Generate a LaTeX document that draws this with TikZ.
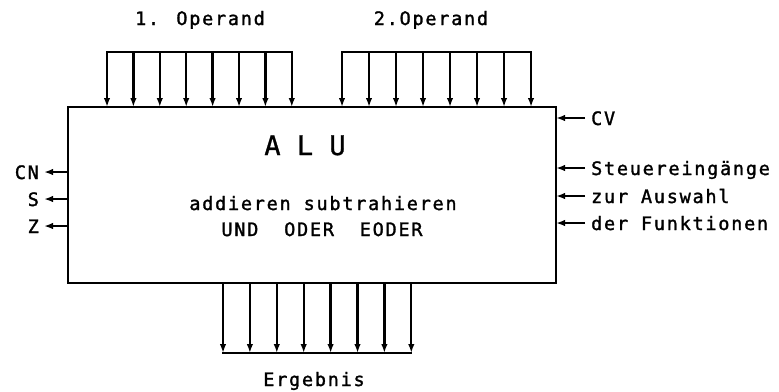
\documentclass[tikz,border=0pt]{standalone}
\usepackage{fontspec}
\newfontfamily\lblfont{DejaVu Sans Mono}[LetterSpace=9.5, FakeBold=1.5]
\newfontfamily\alufont{DejaVu Sans Mono}[FakeBold=1]
\usetikzlibrary{arrows.meta}
\begin{document}
\begin{tikzpicture}[x=1pt,y=-1pt, line width=2.3pt,
  sig/.style={-{Latex[length=9pt,width=6.5pt]}},
  bus/.style={line cap=rect},
  lbl/.style={font=\lblfont\fontsize{18.5}{19}\selectfont, inner sep=0pt},
  big/.style={font=\alufont\fontsize{27}{27}\selectfont, inner sep=0pt}]
\useasboundingbox (0,0) rectangle (779,391);
\node[draw, minimum width=488pt, minimum height=176pt, inner sep=0pt, outer sep=0pt, anchor=north west] (alu) at (68,107) {};
% operand 1
\foreach \i in {0,...,7} {
  \coordinate (a\i) at ({107+26.4*\i},52);
  \draw[sig] (a\i) -- (a\i |- alu.north);
}
\draw[bus] (a0) -- (a7);
% operand 2
\foreach \i in {0,...,7} {
  \coordinate (b\i) at ({342+27*\i},52);
  \draw[sig] (b\i) -- (b\i |- alu.north);
}
\draw[bus] (b0) -- (b7);
% result
\foreach \i in {0,...,7} {
  \coordinate (c\i) at ({223+26.9*\i},353);
  \draw[sig] (c\i |- alu.south) -- (c\i);
}
\draw[bus] (c0) -- (c7);
% labels
\node[lbl, anchor=base] (op1) at (200,25) {1. Operand};
\node[lbl, anchor=base] (op2) at (431,25) {2.Operand};
\node[lbl, anchor=base] (erg) at (314,386) {Ergebnis};
\node[big, anchor=base] (alut) at (305,155) {A L U};
\node[lbl, anchor=base] (f1) at (323,210) {addieren subtrahieren};
\node[lbl, anchor=base] (f2) at (322,236) {UND~~ODER~~EODER};
% left outputs
\foreach \n/\t/\y in {cn/CN/172, s/S/199, z/Z/226} {
  \coordinate (\n) at (44,\y);
  \draw[sig] (\n -| alu.west) -- (\n);
  \node[lbl, anchor=base east] (\n l) at (40,\y+7) {\t};
}
% right inputs
\foreach \n/\t/\y in {cv/CV/118, st/Steuereingänge/168, zu/zur Auswahl/196, de/der Funktionen/223} {
  \coordinate (\n) at (585,\y);
  \draw[sig] (\n) -- (\n -| alu.east);
  \node[lbl, anchor=base west] (\n l) at (590,\y+7) {\t};
}
\end{tikzpicture}
\end{document}
